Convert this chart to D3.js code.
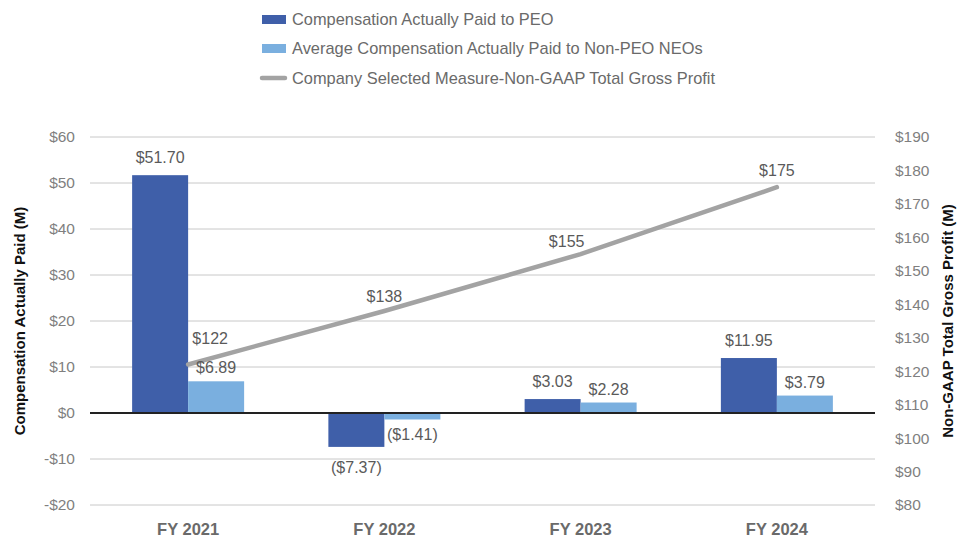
<!DOCTYPE html>
<html><head><meta charset="utf-8">
<script src="https://cdn.jsdelivr.net/npm/d3@7"></script>
<style>body{margin:0;background:#fff;}text{font-family:"Liberation Sans",Arial,Helvetica,sans-serif;}</style>
</head><body><svg id="c" width="958" height="537"></svg>
<script>
const categories = ["FY 2021","FY 2022","FY 2023","FY 2024"];
const peoValues = [51.70, -7.37, 3.03, 11.95];
const neoValues = [6.89, -1.41, 2.28, 3.79];
const grossProfit = [122, 138, 155, 175];
const leftTicks = [60,50,40,30,20,10,0,-10,-20];
const rightTicks = [190,180,170,160,150,140,130,120,110,100,90,80];
const seriesNames = ["Compensation Actually Paid to PEO","Average Compensation Actually Paid to Non-PEO NEOs","Company Selected Measure-Non-GAAP Total Gross Profit"];

const svg = d3.select("#c");
const L=90, R=875, T=137, B=505;
const x = d3.scaleBand().domain(categories).range([L,R]);
const yL = d3.scaleLinear().domain([-20,60]).range([B,T]);
const yR = d3.scaleLinear().domain([80,190]).range([B,T]);
const barW = 56;
const cPEO="#3f5fa9", cNEO="#7aafdf", cLine="#a3a3a3";
const fmt = v => v<0 ? "($"+Math.abs(v).toFixed(2)+")" : "$"+v.toFixed(2);

// gridlines
svg.append("g").selectAll("line").data(leftTicks.filter(d=>d!==0)).join("line")
  .attr("x1",L).attr("x2",R).attr("y1",d=>yL(d)).attr("y2",d=>yL(d))
  .attr("stroke","#c8c8c8").attr("stroke-width",1);

// axis labels
const axL = d3.axisLeft(yL).tickValues(leftTicks).tickSize(0).tickPadding(0)
  .tickFormat(d=> d<0 ? "-$"+Math.abs(d) : "$"+d);
const gL = svg.append("g").attr("transform","translate(75,0)").call(axL);
gL.select(".domain").remove();
gL.selectAll("text").attr("fill","#7f7f7f").style("font-size","15.5px").style("font-family","Liberation Sans, Arial");

const axR = d3.axisRight(yR).tickValues(rightTicks).tickSize(0).tickPadding(0)
  .tickFormat(d=>"$"+d);
const gR = svg.append("g").attr("transform","translate(895,0)").call(axR);
gR.select(".domain").remove();
gR.selectAll("text").attr("fill","#7f7f7f").style("font-size","15.5px").style("font-family","Liberation Sans, Arial");

// bars
const bars = svg.append("g");
bars.selectAll("rect.peo").data(categories).join("rect").attr("class","peo")
  .attr("x",d=>x(d)+x.bandwidth()/2-barW)
  .attr("width",barW)
  .attr("y",(d,i)=>yL(Math.max(0,peoValues[i])))
  .attr("height",(d,i)=>Math.abs(yL(peoValues[i])-yL(0)))
  .attr("fill",cPEO);
bars.selectAll("rect.neo").data(categories).join("rect").attr("class","neo")
  .attr("x",d=>x(d)+x.bandwidth()/2)
  .attr("width",barW)
  .attr("y",(d,i)=>yL(Math.max(0,neoValues[i])))
  .attr("height",(d,i)=>Math.abs(yL(neoValues[i])-yL(0)))
  .attr("fill",cNEO);

// zero line
svg.append("line").attr("x1",L).attr("x2",R).attr("y1",yL(0)).attr("y2",yL(0))
  .attr("stroke","#222").attr("stroke-width",2);

// line
const line = d3.line().x((d,i)=>x(categories[i])+x.bandwidth()/2).y(d=>yR(d));
svg.append("path").datum(grossProfit).attr("d",line).attr("fill","none")
  .attr("stroke",cLine).attr("stroke-width",4.5).attr("stroke-linecap","round");

const lblStyle = s => s.attr("fill","#5a5a5a").style("font-size","16px").attr("text-anchor","middle");
// bar labels
svg.append("g").selectAll("text").data(categories).join("text")
  .attr("x",d=>x(d)+x.bandwidth()/2-barW/2)
  .attr("y",(d,i)=>peoValues[i]>=0 ? yL(peoValues[i])-12 : yL(peoValues[i])+26)
  .text((d,i)=>fmt(peoValues[i])).call(lblStyle);
svg.append("g").selectAll("text").data(categories).join("text")
  .attr("x",d=>x(d)+x.bandwidth()/2+barW/2)
  .attr("y",(d,i)=>neoValues[i]>=0 ? yL(neoValues[i])-8 : yL(neoValues[i])+21)
  .text((d,i)=>fmt(neoValues[i])).call(lblStyle);
// line labels
const lineDx = [22, 0, -14, 0];
const lineDy = [-20, -9, -7, -11];
svg.append("g").selectAll("text").data(grossProfit).join("text")
  .attr("x",(d,i)=>x(categories[i])+x.bandwidth()/2+lineDx[i])
  .attr("y",(d,i)=>yR(d)+lineDy[i])
  .text(d=>"$"+d).call(lblStyle);

// category labels
svg.append("g").selectAll("text").data(categories).join("text")
  .attr("x",d=>x(d)+x.bandwidth()/2).attr("y",535)
  .attr("text-anchor","middle").attr("fill","#6a6a6a").style("font-size","16.5px").style("font-weight","bold")
  .text(d=>d);

// axis titles
svg.append("text").attr("transform",`translate(25,${(T+B)/2}) rotate(-90)`)
  .attr("text-anchor","middle").attr("fill","#111").style("font-size","15px").style("font-weight","bold")
  .text("Compensation Actually Paid (M)");
svg.append("text").attr("transform",`translate(953,${(T+B)/2}) rotate(-90)`)
  .attr("text-anchor","middle").attr("fill","#111").style("font-size","15px").style("font-weight","bold")
  .text("Non-GAAP Total Gross Profit (M)");

// legend
const lg = svg.append("g");
const rows = [19, 48, 78];
lg.append("rect").attr("x",262).attr("y",rows[0]-4).attr("width",24).attr("height",9).attr("fill",cPEO);
lg.append("rect").attr("x",262).attr("y",rows[1]-4).attr("width",24).attr("height",9).attr("fill",cNEO);
lg.append("line").attr("x1",262).attr("x2",285).attr("y1",rows[2]).attr("y2",rows[2])
  .attr("stroke",cLine).attr("stroke-width",4.5).attr("stroke-linecap","round");
lg.selectAll("text").data(seriesNames).join("text")
  .attr("x",292).attr("y",(d,i)=>rows[i]+6).attr("fill","#6a6a6a").style("font-size","16.4px")
  .text(d=>d);
</script></body></html>
